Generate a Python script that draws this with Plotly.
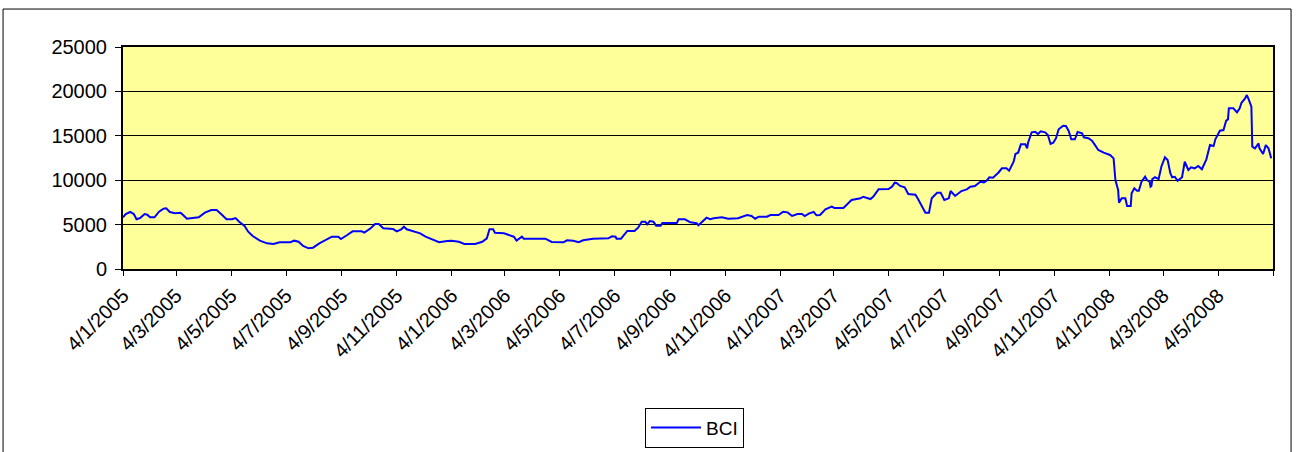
import plotly.graph_objects as go

# ---- data (BCI daily index) ----
dates_2005 = ["2005-01-04","2005-01-07","2005-01-12","2005-01-16","2005-01-19","2005-01-23","2005-01-28","2005-01-31",
              "2005-02-03","2005-02-08","2005-02-13","2005-02-18","2005-02-21","2005-02-25","2005-03-03","2005-03-09",
              "2005-03-12","2005-03-16","2005-03-29","2005-04-05","2005-04-12","2005-04-18","2005-04-22","2005-04-29",
              "2005-05-05","2005-05-09","2005-05-13","2005-05-19","2005-05-23","2005-05-28","2005-06-05","2005-06-13",
              "2005-06-20","2005-06-27","2005-07-09","2005-07-13","2005-07-18","2005-07-23","2005-07-29","2005-08-03",
              "2005-08-10","2005-08-18","2005-08-24","2005-08-31","2005-09-03","2005-09-10","2005-09-16","2005-09-26",
              "2005-09-29","2005-10-06","2005-10-11","2005-10-15","2005-10-20","2005-10-31","2005-11-04","2005-11-09",
              "2005-11-12","2005-11-15","2005-11-23","2005-11-30","2005-12-06","2005-12-13","2005-12-21","2005-12-30"]
bci_2005 = [5820,6190,6420,6190,5600,5740,6190,6110,
            5820,5820,6450,6790,6830,6420,6270,6340,
            6050,5660,5820,6340,6640,6640,6270,5600,
            5600,5740,5330,4840,4200,3720,3190,2890,
            2820,3010,3010,3190,3070,2590,2330,2400,
            2890,3340,3640,3640,3380,3830,4240,4240,
            4090,4580,5070,5070,4580,4500,4240,4470,
            4760,4470,4200,4020,3640,3340,3010,3150]

dates_2006 = ["2006-01-04","2006-01-12","2006-01-18","2006-01-30","2006-02-07","2006-02-12","2006-02-15","2006-02-19",
              "2006-02-21","2006-03-03","2006-03-10","2006-03-14","2006-03-17","2006-03-23","2006-03-25","2006-04-18",
              "2006-04-25","2006-05-08","2006-05-12","2006-05-19","2006-05-25","2006-05-30","2006-06-10","2006-06-27",
              "2006-07-01","2006-07-05","2006-07-06","2006-07-11","2006-07-18","2006-07-26","2006-07-30","2006-08-03",
              "2006-08-07","2006-08-09","2006-08-12","2006-08-16","2006-08-19","2006-08-24","2006-08-26","2006-09-11",
              "2006-09-13","2006-09-20","2006-09-26","2006-10-03","2006-10-05","2006-10-09","2006-10-14","2006-10-18",
              "2006-10-22","2006-10-31","2006-11-07","2006-11-18","2006-11-28","2006-12-03","2006-12-07","2006-12-11",
              "2006-12-20","2006-12-24"]
bci_2006 = [3190,3070,2820,2820,3070,3460,4470,4470,
            4090,4020,3830,3640,3190,3640,3410,3410,
            3040,3010,3230,3190,3010,3230,3410,3460,
            3680,3640,3410,3410,4280,4280,4650,5330,
            5330,5030,5400,5330,4880,4880,5180,5180,
            5600,5600,5260,5150,4920,5330,5780,5600,
            5710,5820,5660,5710,6080,5970,5660,5890,
            5890,6080]

dates_2007 = ["2007-01-02","2007-01-07","2007-01-12","2007-01-17","2007-01-23","2007-01-28","2007-01-31","2007-02-05",
              "2007-02-10","2007-02-13","2007-02-17","2007-02-23","2007-03-02","2007-03-05","2007-03-15","2007-03-24",
              "2007-03-30","2007-04-03","2007-04-06","2007-04-10","2007-04-14","2007-04-17","2007-04-23","2007-05-04",
              "2007-05-08","2007-05-11","2007-05-13","2007-05-17","2007-05-22","2007-05-26","2007-06-03","2007-06-06",
              "2007-06-10","2007-06-14","2007-06-18","2007-06-21","2007-06-27","2007-07-01","2007-07-05","2007-07-10",
              "2007-07-12","2007-07-17","2007-07-24","2007-07-30","2007-08-03","2007-08-08","2007-08-14","2007-08-18",
              "2007-08-21","2007-08-24","2007-08-28","2007-09-03","2007-09-07","2007-09-12","2007-09-15","2007-09-20",
              "2007-09-22","2007-09-25","2007-09-28","2007-10-03","2007-10-05","2007-10-06","2007-10-10","2007-10-14",
              "2007-10-17","2007-10-20","2007-10-25","2007-10-28","2007-10-31","2007-11-03","2007-11-06","2007-11-09",
              "2007-11-14","2007-11-17","2007-11-20","2007-11-23","2007-11-27","2007-11-30","2007-12-05","2007-12-07",
              "2007-12-12","2007-12-16","2007-12-19","2007-12-23","2007-12-29"]
bci_2007 = [6080,6450,6380,5970,6190,6190,5970,6270,
            6420,6050,6080,6720,7020,6870,6870,7770,
            7850,7960,8140,8030,7880,8140,8970,9010,
            9270,9720,9680,9350,9200,8450,8370,7850,
            7090,6340,6340,7960,8590,8590,7770,7960,
            8780,8220,8780,8970,9270,9350,9830,9760,
            9940,10330,10280,10840,11340,11340,11070,12080,
            12950,13100,14040,14040,13590,14220,15390,15460,
            15200,15500,15390,15090,14080,14220,14720,15730,
            16140,16100,15570,14600,14600,15430,15280,14830,
            14720,14450,14000,13400,13100]

dates_2008 = ["2008-01-05","2008-01-09","2008-01-11","2008-01-14","2008-01-15","2008-01-18","2008-01-22","2008-01-24",
              "2008-01-28","2008-01-29","2008-02-01","2008-02-04","2008-02-06","2008-02-09","2008-02-13","2008-02-15",
              "2008-02-18","2008-02-19","2008-02-20","2008-02-21","2008-02-24","2008-02-28","2008-03-02","2008-03-06",
              "2008-03-09","2008-03-12","2008-03-14","2008-03-17","2008-03-20","2008-03-25","2008-03-28","2008-04-01",
              "2008-04-04","2008-04-08","2008-04-12","2008-04-16","2008-04-21","2008-04-25","2008-04-29","2008-05-01",
              "2008-05-06","2008-05-10","2008-05-13","2008-05-15","2008-05-16","2008-05-21","2008-05-25","2008-05-28",
              "2008-05-30","2008-06-03","2008-06-05","2008-06-07","2008-06-10","2008-06-11","2008-06-14","2008-06-18",
              "2008-06-19","2008-06-23","2008-06-26","2008-06-29","2008-07-02"]
bci_2008 = [12840,12460,10020,8900,7470,7960,7960,7090,
            7090,8520,9090,8820,8820,9830,10390,10020,
            9830,9270,9350,10130,10330,10130,11520,12580,
            12270,10780,10330,10390,9940,10330,12080,11150,
            11450,11340,11600,11230,12350,13960,13850,14600,
            15570,15650,16700,16850,18090,18090,17640,18090,
            18720,19220,19590,19110,18270,13770,13590,14150,
            13590,12950,13960,13590,12460]

tick_dates = ["2005-01-04","2005-03-04","2005-05-04","2005-07-04","2005-09-04","2005-11-04",
              "2006-01-04","2006-03-04","2006-05-04","2006-07-04","2006-09-04","2006-11-04",
              "2007-01-04","2007-03-04","2007-05-04","2007-07-04","2007-09-04","2007-11-04",
              "2008-01-04","2008-03-04","2008-05-04","2008-07-04"]
tick_labels = ["4/1/2005","4/3/2005","4/5/2005","4/7/2005","4/9/2005","4/11/2005",
               "4/1/2006","4/3/2006","4/5/2006","4/7/2006","4/9/2006","4/11/2006",
               "4/1/2007","4/3/2007","4/5/2007","4/7/2007","4/9/2007","4/11/2007",
               "4/1/2008","4/3/2008","4/5/2008",""]
y_ticks = [0, 5000, 10000, 15000, 20000, 25000]
series_name = "BCI"

dates = dates_2005 + dates_2006 + dates_2007 + dates_2008
bci = bci_2005 + bci_2006 + bci_2007 + bci_2008

FONT = "Liberation Sans, Arial, sans-serif"

fig = go.Figure()
fig.add_trace(go.Scatter(x=dates, y=bci, mode="lines", name=series_name,
                         line=dict(color="#0000FF", width=2)))

fig.update_layout(
    width=1297, height=452, autosize=False,
    margin=dict(l=123, r=24, t=47, b=183, autoexpand=False),
    paper_bgcolor="white",
    plot_bgcolor="#FFFF99",
    font=dict(family=FONT, size=20, color="black"),
    showlegend=True,
    legend=dict(x=0.4539, y=-0.625, xanchor="left", yanchor="top",
                bgcolor="white", bordercolor="black", borderwidth=1,
                font=dict(family=FONT, size=19, color="black"),
                itemwidth=50),
    xaxis=dict(type="date", range=[tick_dates[0], tick_dates[-1]],
               tickmode="array", tickvals=tick_dates, ticktext=tick_labels,
               tickangle=-45, ticks="outside", ticklen=5, tickcolor="black",
               showgrid=False, showline=True, linecolor="black", linewidth=2,
               mirror=True, zeroline=False, automargin=False,
               tickfont=dict(family=FONT, size=20, color="black")),
    yaxis=dict(range=[0, 25000], tickmode="array", tickvals=y_ticks,
               ticktext=[str(v) for v in y_ticks],
               ticks="outside", ticklen=6, tickcolor="black",
               ticklabelstandoff=4, automargin=False,
               showgrid=True, gridcolor="black", gridwidth=1,
               showline=True, linecolor="black", linewidth=2, mirror=True,
               zeroline=False,
               tickfont=dict(family=FONT, size=20, color="black")),
    shapes=[dict(type="rect", xref="paper", yref="paper",
                 x0=-0.1043, x1=1.0157, y0=-1.2, y1=1.171,
                 line=dict(color="black", width=1), fillcolor="rgba(0,0,0,0)",
                 layer="below")],
)

fig.write_html("out.html", config={"displayModeBar": False},
               post_script="document.body.style.margin='0';")
